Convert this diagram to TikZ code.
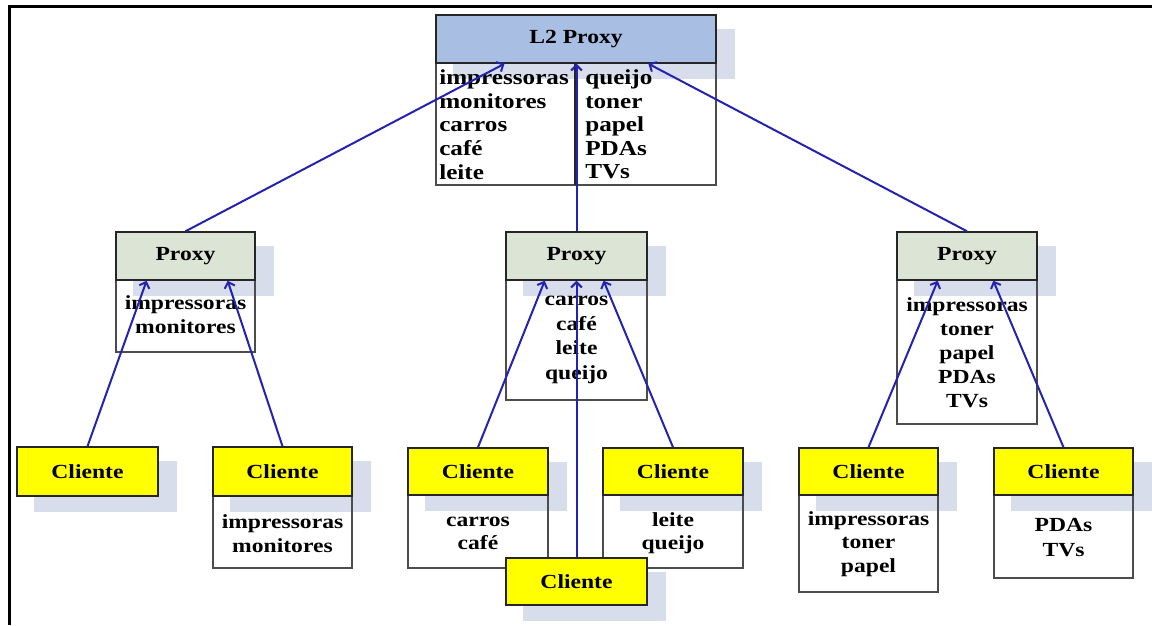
\documentclass[tikz,border=0pt]{standalone}
\usepackage{fontspec}
\setmainfont[FakeStretch=1.18]{Liberation Serif}
\usetikzlibrary{arrows.meta,fit,calc,backgrounds}
\definecolor{l2c}{RGB}{168,190,226}
\definecolor{pxc}{RGB}{220,228,214}
\definecolor{clc}{RGB}{255,255,0}
\definecolor{shc}{RGB}{216,221,236}
\definecolor{lnc}{RGB}{35,35,175}
\begin{document}
\begin{tikzpicture}[x=0.75pt,y=-0.75pt,
  hdr/.style={draw=black!85, line width=1.1pt, inner sep=0pt},
  every label/.style={inner sep=0pt, font=\fontsize{15}{18}\selectfont\bfseries},
  l2h/.style={hdr, fill=l2c},
  pxh/.style={hdr, fill=pxc},
  clh/.style={hdr, fill=clc},
  bodyb/.style={draw=black!70, line width=1pt, inner sep=0pt},
  txt/.style={inner sep=0pt, align=center, font=\fontsize{15}{18}\selectfont\bfseries},
  ltxt/.style={inner sep=0pt, align=left, anchor=west, font=\fontsize{16}{17.7}\selectfont\bfseries},
  lnk/.style={draw=lnc, line width=1.5pt, -{Straight Barb[length=4pt,width=8pt]}},
]
\useasboundingbox (0,0) rectangle (1152,625);

% frame
\draw[line width=2.3pt, line join=miter] (9.5,625) -- (9.5,6.5) -- (1152,6.5);

% bodies
\node[bodyb, fit={(436,63)(716,185)}] (l2b) {};
\node[bodyb, fit={(116,280)(255,352)}] (p1b) {};
\node[bodyb, fit={(506,280)(647,400)}] (p2b) {};
\node[bodyb, fit={(897,280)(1037,424)}] (p3b) {};
\node[bodyb, fit={(213,496)(352,568)}] (c2b) {};
\node[bodyb, fit={(408,495)(548,568)}] (c3b) {};
\node[bodyb, fit={(603,495)(743,568)}] (c4b) {};
\node[bodyb, fit={(799,495)(938,592)}] (c6b) {};
\node[bodyb, fit={(994,495)(1133,578)}] (c7b) {};
\draw[draw=black!85, line width=1pt] (575,63) -- (575,185);

% headers
\node[l2h, fit={(436,15)(716,63)}, label={center:L2 Proxy}] (l2) {};
\node[pxh, fit={(116,232)(255,280)}, label={center:Proxy}] (p1) {};
\node[pxh, fit={(506,232)(647,280)}, label={center:Proxy}] (p2) {};
\node[pxh, fit={(897,232)(1037,280)}, label={center:Proxy}] (p3) {};
\node[clh, fit={(17,447)(158,496)}, label={center:Cliente}] (c1) {};
\node[clh, fit={(213,447)(352,496)}, label={center:Cliente}] (c2) {};
\node[clh, fit={(408,448)(548,495)}, label={center:Cliente}] (c3) {};
\node[clh, fit={(603,448)(743,495)}, label={center:Cliente}] (c4) {};
\node[clh, fit={(506,558)(647,605)}, label={center:Cliente}] (c5) {};
\node[clh, fit={(799,448)(938,495)}, label={center:Cliente}] (c6) {};
\node[clh, fit={(994,448)(1133,495)}, label={center:Cliente}] (c7) {};

% shadows
\begin{scope}[on background layer]
\foreach \h in {l2,p1,p2,p3,c1,c2,c3,c4,c5,c6,c7}
  \fill[shc] ([shift={(18,15)}]\h.south west) rectangle ([shift={(18,15)}]\h.north east);
\end{scope}

% body texts
\node[ltxt] (l2l) at (439,124.5) {impressoras\\monitores\\carros\\café\\leite};
\node[ltxt] (l2r) at (585,124.5) {queijo\\toner\\papel\\PDAs\\TVs};
\node[txt] (p1t) at (185.5,315) {impressoras\\monitores};
\node[txt, font=\fontsize{15}{18.5}\selectfont\bfseries] (p2t) at (576.5,340) {carros\\café\\leite\\queijo};
\node[txt] (p3t) at (967,353) {impressoras\\toner\\papel\\PDAs\\TVs};
\node[txt, font=\fontsize{15}{17.5}\selectfont\bfseries] (c2t) at (282.5,533.5) {impressoras\\monitores};
\node[txt, font=\fontsize{15}{17.5}\selectfont\bfseries] (c3t) at (478,533.5) {carros\\café};
\node[txt, font=\fontsize{15}{17.5}\selectfont\bfseries] (c4t) at (673,533.5) {leite\\queijo};
\node[txt, font=\fontsize{15}{17.5}\selectfont\bfseries] (c6t) at (868.5,544) {impressoras\\toner\\papel};
\node[txt, font=\fontsize{15}{18.5}\selectfont\bfseries] (c7t) at (1063.5,537.5) {PDAs\\TVs};

% connectors
\draw[lnk] (p1.north) -- ($(l2.south west)!0.246!(l2.south east)$);
\draw[lnk] (p2.north) -- (p2.north |- l2.south);
\draw[lnk] (p3.north) -- ($(l2.south west)!0.757!(l2.south east)$);
\draw[lnk] (c1.north) -- ($(p1.south west)!0.223!(p1.south east)$);
\draw[lnk] (c2.north) -- ($(p1.south west)!0.80!(p1.south east)$);
\draw[lnk] (c3.north) -- ($(p2.south west)!0.277!(p2.south east)$);
\draw[lnk] (c5.north) -- (c5.north |- p2.south);
\draw[lnk] (c4.north) -- ($(p2.south west)!0.69!(p2.south east)$);
\draw[lnk] (c6.north) -- ($(p3.south west)!0.293!(p3.south east)$);
\draw[lnk] (c7.north) -- ($(p3.south west)!0.686!(p3.south east)$);
\end{tikzpicture}
\end{document}
